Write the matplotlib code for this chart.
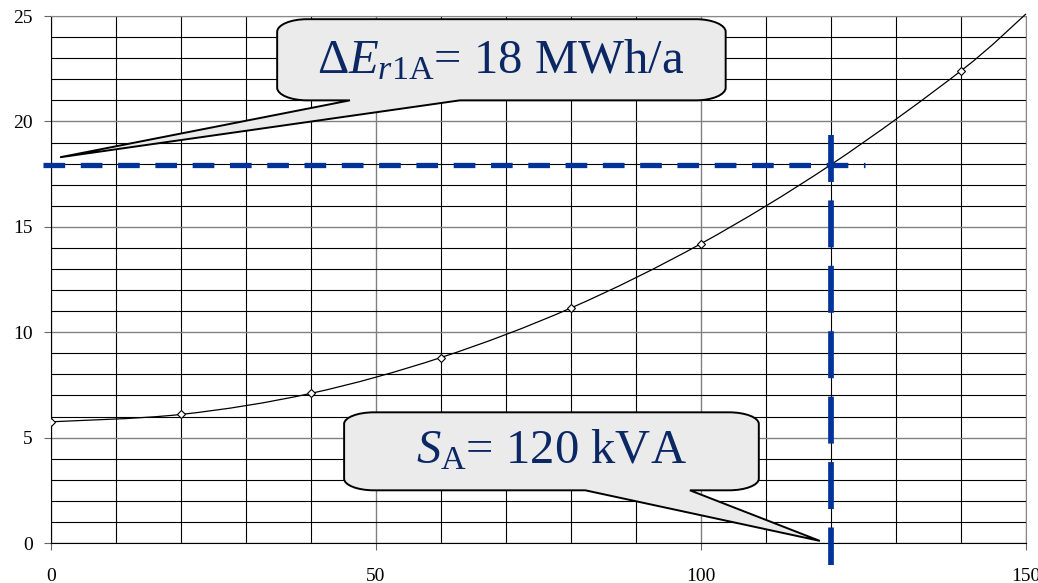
import numpy as np
import matplotlib.pyplot as plt
from matplotlib.path import Path
from matplotlib.patches import PathPatch

plt.rcParams['font.family'] = ['Liberation Serif', 'DejaVu Serif']
plt.rcParams['mathtext.fontset'] = 'custom'
plt.rcParams['mathtext.rm'] = 'Liberation Serif'
plt.rcParams['mathtext.it'] = 'Liberation Serif:italic'
plt.rcParams['lines.scale_dashes'] = False

# data
s_kva = [0, 20, 40, 60, 80, 100, 120, 140, 150]
de_mwh = [5.75, 6.1, 7.1, 8.8, 11.15, 14.2, 17.95, 22.4, 25.1]
marked = [0, 1, 2, 3, 4, 5, 7]

s_a = 120      # kVA
de_a = 17.95   # MWh/a (labelled 18)

label_e = r'$\Delta E_{r\mathrm{1A}}$= 18 MWh/a'
label_s = r'$S_{\mathrm{A}}$= 120 kVA'

navy = '#003399'
txt_col = '#0b2865'


def smooth_path(x, y):
    # excel-like smoothed line: cubic bezier through every point
    p = np.column_stack([x, y]).astype(float)
    n = len(p)
    verts = [p[0]]
    codes = [Path.MOVETO]
    for i in range(n - 1):
        pm = p[max(i - 1, 0)]
        pn = p[min(i + 2, n - 1)]
        c1 = p[i] + (p[i + 1] - pm) / 6
        c2 = p[i + 1] - (pn - p[i]) / 6
        verts += [c1, c2, p[i + 1]]
        codes += [Path.CURVE4] * 3
    return Path(verts, codes)


def callout(ax, x0, x1, y0, y1, rx, ry, wb0, wb1, tip):
    k = 0.5523
    verts = [
        (x0 + rx, y1), (x1 - rx, y1),
        (x1 - rx + k * rx, y1), (x1, y1 - ry + k * ry), (x1, y1 - ry),
        (x1, y0 + ry),
        (x1, y0 + ry - k * ry), (x1 - rx + k * rx, y0), (x1 - rx, y0),
        (wb1, y0), tip, (wb0, y0),
        (x0 + rx, y0),
        (x0 + rx - k * rx, y0), (x0, y0 + ry - k * ry), (x0, y0 + ry),
        (x0, y1 - ry),
        (x0, y1 - ry + k * ry), (x0 + rx - k * rx, y1), (x0 + rx, y1),
        (x0 + rx, y1),
    ]
    codes = ([Path.MOVETO, Path.LINETO] + [Path.CURVE4] * 3 + [Path.LINETO]
             + [Path.CURVE4] * 3 + [Path.LINETO] * 4 + [Path.CURVE4] * 3
             + [Path.LINETO] + [Path.CURVE4] * 3 + [Path.CLOSEPOLY])
    patch = PathPatch(Path(verts, codes), facecolor='#ebebeb', edgecolor='black',
                      lw=1.4, zorder=4, clip_on=False)
    ax.add_patch(patch)


fig = plt.figure(figsize=(10.38, 5.83), dpi=100)
ax = fig.add_axes([0.0491, 0.0686, 0.9393, 0.9039])
ax.set_xlim(0, 150)
ax.set_ylim(0, 25)

ax.set_xticks([0, 50, 100, 150])
ax.set_xticks(np.arange(0, 151, 10), minor=True)
ax.set_yticks(np.arange(0, 26, 5))
ax.set_yticks(np.arange(0, 26, 1), minor=True)
ax.grid(which='minor', color='black', lw=0.8, zorder=0)
ax.grid(which='major', color='#808080', lw=1.0, zorder=0)
ax.set_axisbelow(True)
ax.tick_params(which='minor', length=0)
ax.tick_params(axis='y', which='major', length=5, color='#666666', pad=8, labelsize=14)
ax.tick_params(axis='x', which='major', length=5, color='#666666', pad=13, labelsize=14)
for side in ['top', 'right']:
    ax.spines[side].set_color('#888888')
for side in ['left', 'bottom']:
    ax.spines[side].set_color('black')

# curve and markers
ax.add_patch(PathPatch(smooth_path(s_kva, de_mwh), facecolor='none',
                       edgecolor='black', lw=0.9, zorder=3, clip_on=False))
ax.plot(np.array(s_kva)[marked], np.array(de_mwh)[marked], ls='none', marker='D',
        ms=4.5, mfc='white', mec='black', mew=0.8, zorder=3)

# reading lines
ax.plot([-1.2, s_a + 5.2], [de_a, de_a], color=navy, lw=3.8,
        dashes=(15.6, 11.25), dash_capstyle='butt',
        zorder=5, clip_on=False)
ax.plot([s_a, s_a], [de_a + 1.4, -1.05], color=navy, lw=4.1,
        dashes=(33.8, 13.3), dash_capstyle='butt',
        zorder=5, clip_on=False)

# callouts
callout(ax, 34.8, 103.8, 21.0, 24.85, 4.6, 0.6, 46.0, 62.9, (1.4, 18.3))
ax.text(69.2, 22.3, label_e, ha='center', va='baseline', fontsize=35,
        color=txt_col, zorder=6)

callout(ax, 45.1, 108.9, 2.5, 6.2, 4.6, 0.55, 82.2, 98.3, (118.3, 0.1))
ax.text(77.0, 3.8, label_s, ha='center', va='baseline', fontsize=35,
        color=txt_col, zorder=6)

fig.savefig('out.png', dpi=100)
